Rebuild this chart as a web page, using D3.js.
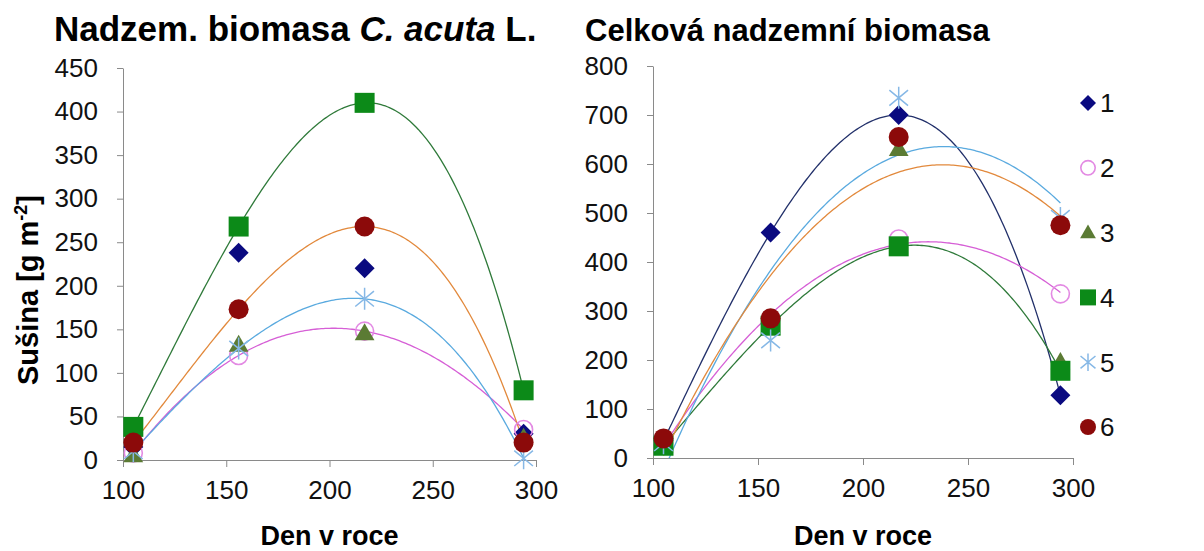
<!DOCTYPE html>
<html>
<head>
<meta charset="utf-8">
<script src="https://cdn.jsdelivr.net/npm/d3@7"></script>
<style>
  body { margin: 0; background: #fff; }
  svg { display: block; font-family: "Liberation Sans", Arial, sans-serif; }
  .axis path, .axis line { stroke: #8a8a8a; }
  .axis text { font-size: 26px; fill: #111; font-family: "Liberation Sans", Arial, sans-serif; }
</style>
</head>
<body>
<svg id="chart" width="1204" height="551"></svg>
<script>
// day of year of the four samplings
const days = [105, 156, 217, 294];
const seriesNames = ["1", "2", "3", "4", "5", "6"];
const xTicks = [100, 150, 200, 250, 300];
const leftYTicks = [0, 50, 100, 150, 200, 250, 300, 350, 400, 450];
const rightYTicks = [0, 100, 200, 300, 400, 500, 600, 700, 800];

// C. acuta aboveground biomass, one row per series
const leftValues = [
  [15, 238, 220, 30],
  [8, 120, 148, 35],
  [5, 132, 145, 25],
  [38, 268, 410, 80],
  [10, 128, 185, 2],
  [20, 173, 268, 20]
];
// total aboveground biomass
const rightValues = [
  [35, 460, 700, 128],
  [30, 280, 447, 335],
  [25, 265, 630, 195],
  [25, 270, 432, 178],
  [30, 240, 735, 490],
  [40, 285, 655, 475]
];
// polynomial trendlines: [series index, order]
const leftTrends = [[1, 3], [3, 3], [4, 3], [5, 3]];
const rightTrends = [[0, 3], [1, 2], [3, 3], [4, 2], [5, 2]];

const markerFill = ["#0a0a80", "none", "#5b7b34", "#0c8a18", "none", "#8c0a0a"];
const markerStroke = ["#0a0a80", "#e38ae3", "#5b7b34", "#0c8a18", "#86b8e6", "#8c0a0a"];
const trendColor = ["#22306a", "#d65fd6", "#5b7b34", "#2f7a3a", "#5aaadf", "#e2893c"];

const svg = d3.select("#chart");
const defs = svg.append("defs");

function asteriskPath(r) {
  const a = r * 0.85, b = r * 0.7;
  return `M0,${-r}L0,${r}M${-a},${-b}L${a},${b}M${-a},${b}L${a},${-b}`;
}

function drawMarker(g, i, x, y, s) {
  if (i === 0) {
    g.append("path").attr("d", d3.symbol(d3.symbolSquare, s * s * 0.5)())
      .attr("transform", `translate(${x},${y}) rotate(45)`)
      .attr("fill", markerFill[i]);
  } else if (i === 1) {
    g.append("circle").attr("cx", x).attr("cy", y).attr("r", s * 0.45)
      .attr("fill", "none").attr("stroke", markerStroke[i]).attr("stroke-width", 1.6);
  } else if (i === 2) {
    g.append("path").attr("d", d3.symbol(d3.symbolTriangle, s * s * 0.42)())
      .attr("transform", `translate(${x},${y + 1})`)
      .attr("fill", markerFill[i]);
  } else if (i === 3) {
    g.append("rect").attr("x", x - s / 2).attr("y", y - s / 2)
      .attr("width", s).attr("height", s).attr("fill", markerFill[i]);
  } else if (i === 4) {
    g.append("path").attr("d", asteriskPath(s * 0.55))
      .attr("transform", `translate(${x},${y})`)
      .attr("fill", "none").attr("stroke", markerStroke[i]).attr("stroke-width", 1.5);
  } else {
    g.append("circle").attr("cx", x).attr("cy", y).attr("r", s * 0.5)
      .attr("fill", markerFill[i]);
  }
}

// least squares polynomial, like the excel polynomial trendline
function polyFit(xs, ys, n) {
  const m = n + 1;
  // center x to keep the normal equations sane
  const c = d3.mean(xs);
  const u = xs.map(x => (x - c) / 100);
  const A = [];
  for (let r = 0; r < m; r++) {
    A.push([]);
    for (let k = 0; k < m; k++) A[r].push(d3.sum(u, v => Math.pow(v, r + k)));
    A[r].push(d3.sum(u, (v, j) => ys[j] * Math.pow(v, r)));
  }
  for (let col = 0; col < m; col++) {
    for (let r = col + 1; r < m; r++) {
      const f = A[r][col] / A[col][col];
      for (let k = col; k <= m; k++) A[r][k] -= f * A[col][k];
    }
  }
  const co = new Array(m).fill(0);
  for (let r = m - 1; r >= 0; r--) {
    let s = A[r][m];
    for (let k = r + 1; k < m; k++) s -= A[r][k] * co[k];
    co[r] = s / A[r][r];
  }
  return x => {
    const v = (x - c) / 100;
    return co.reduce((acc, a, p) => acc + a * Math.pow(v, p), 0);
  };
}

function drawPanel(cfg) {
  const x = d3.scaleLinear().domain([100, 300]).range(cfg.xr);
  const y = d3.scaleLinear().domain([0, cfg.yMax]).range(cfg.yr);

  // trendlines stay inside the plot area
  defs.append("clipPath").attr("id", cfg.id)
    .append("rect").attr("x", cfg.xr[0]).attr("y", cfg.yr[1])
    .attr("width", cfg.xr[1] - cfg.xr[0]).attr("height", cfg.yr[0] - cfg.yr[1]);

  svg.append("g").attr("class", "axis")
    .attr("transform", `translate(0,${cfg.yr[0]})`)
    .call(d3.axisBottom(x).tickValues(xTicks).tickSize(7).tickSizeOuter(0).tickPadding(14));
  svg.append("g").attr("class", "axis")
    .attr("transform", `translate(${cfg.xr[0]},0)`)
    .call(d3.axisLeft(y).tickValues(cfg.yTicks).tickSize(6).tickSizeOuter(0).tickPadding(19));

  const line = d3.line().x(d => x(d[0])).y(d => y(d[1]));
  const tg = svg.append("g").attr("clip-path", `url(#${cfg.id})`);
  cfg.trends.forEach(([i, order]) => {
    const f = polyFit(days, cfg.values[i], order);
    const pts = d3.range(days[0], days[3] + 0.5, 1).map(d => [d, f(d)]);
    tg.append("path").attr("d", line(pts))
      .attr("fill", "none").attr("stroke", trendColor[i]).attr("stroke-width", 1.3);
  });

  const g = svg.append("g");
  cfg.values.forEach((vals, i) => {
    vals.forEach((v, k) => drawMarker(g, i, x(days[k]), y(v), 20));
  });

  svg.append("text").attr("x", (cfg.xr[0] + cfg.xr[1]) / 2).attr("y", 545)
    .attr("text-anchor", "middle").attr("font-weight", "bold").attr("font-size", 27)
    .text("Den v roce");
}

drawPanel({ id: "clipL", xr: [123, 536], yr: [460, 68], yMax: 450, yTicks: leftYTicks, values: leftValues, trends: leftTrends });
drawPanel({ id: "clipR", xr: [653, 1073], yr: [458, 66], yMax: 800, yTicks: rightYTicks, values: rightValues, trends: rightTrends });

// titles
const t1 = svg.append("text").attr("x", 54).attr("y", 41)
  .attr("font-weight", "bold").attr("font-size", 35);
t1.append("tspan").text("Nadzem. biomasa ");
t1.append("tspan").attr("font-style", "italic").text("C. acuta");
t1.append("tspan").text(" L.");

svg.append("text").attr("x", 585).attr("y", 41)
  .attr("font-weight", "bold").attr("font-size", 31)
  .text("Celková nadzemní biomasa");

// y axis title
const yt = svg.append("text").attr("transform", "translate(38,290) rotate(-90)")
  .attr("text-anchor", "middle").attr("font-weight", "bold").attr("font-size", 29);
yt.append("tspan").text("Sušina [g m");
yt.append("tspan").attr("font-size", 18).attr("dy", -11).text("-2");
yt.append("tspan").attr("dy", 11).text("]");

// legend
const legY = d3.scaleLinear().domain([0, 5]).range([103, 427]);
const leg = svg.append("g");
seriesNames.forEach((name, i) => {
  drawMarker(leg, i, 1088, legY(i), 16);
  leg.append("text").attr("x", 1100).attr("y", legY(i)).attr("dy", "0.36em")
    .attr("font-size", 26).attr("fill", "#111").text(name);
});
</script>
</body>
</html>
